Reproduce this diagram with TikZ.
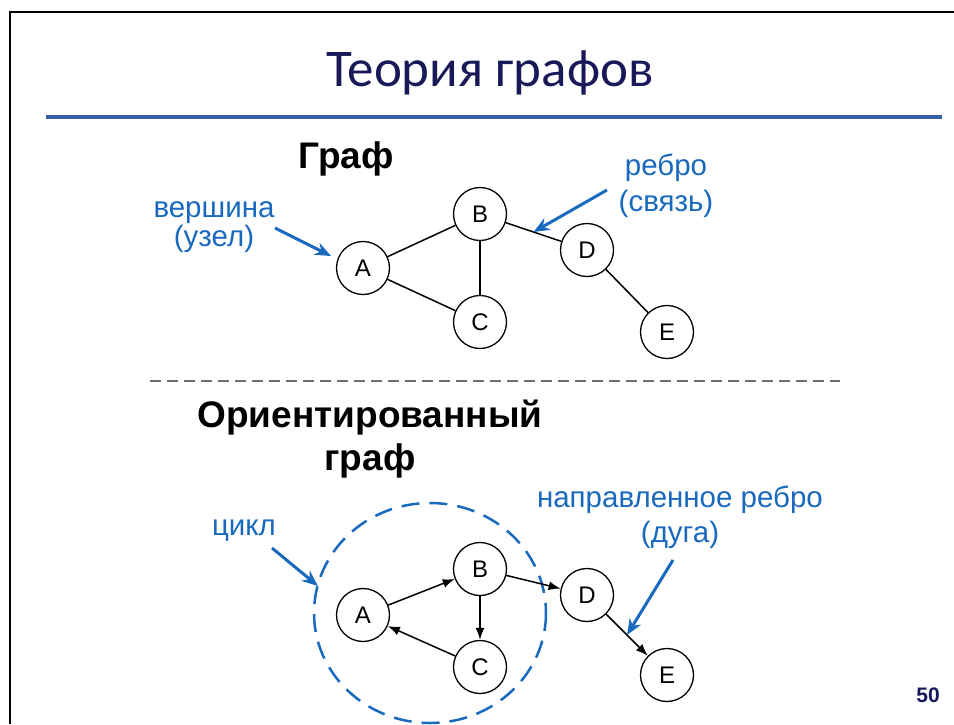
\documentclass[tikz,border=0pt]{standalone}
\usepackage{fontspec}
\setmainfont{Liberation Sans}
\newfontfamily\titlefont{Carlito}
\usetikzlibrary{arrows.meta,calc}
\definecolor{navy}{RGB}{25,25,90}
\definecolor{lineblue}{RGB}{55,95,165}
\definecolor{annblue}{RGB}{25,105,190}
\definecolor{sepgray}{RGB}{110,110,110}
\begin{document}
\begin{tikzpicture}[x=1pt,y=-1pt,
 vtx/.style={circle,draw,line width=1.3pt,minimum size=53pt,inner sep=0pt,font=\fontsize{24}{24}\selectfont},
 edge/.style={line width=1.5pt},
 darc/.style={line width=1.5pt,-{Latex[length=12pt,width=9pt]}},
 ann/.style={text=annblue,font=\fontsize{29.5}{33}\selectfont,anchor=base},
 annarrow/.style={draw=annblue,line width=3pt,-{Stealth[length=16pt,width=13pt]}},
 heading/.style={font=\bfseries\fontsize{37}{40}\selectfont,anchor=base}]
\useasboundingbox (0,0) rectangle (954,724);
\fill[white] (0,0) rectangle (954,724);
\draw[line width=2.5pt] (10,724) -- (10,12) -- (954,12);
% title
\node[font=\titlefont\fontsize{53}{56}\selectfont,text=navy,anchor=base] (title) at (490,86) {Теория графов};
\draw[lineblue,line width=4pt] (46,117) -- (942,117);
% upper graph
\node[heading] (h1) at (346,168) {Граф};
\node[vtx] (A) at (363,268) {A};
\node[vtx] (B) at (480,214) {B};
\node[vtx] (C) at (480,322) {C};
\node[vtx] (D) at (587,250) {D};
\node[vtx] (E) at (667,332) {E};
\draw[edge] (A) -- (B);
\draw[edge] (A) -- (C);
\draw[edge] (B) -- (C);
\draw[edge] (B) -- (D);
\draw[edge] (D) -- (E);
\node[ann] (v1) at (214,217) {вершина};
\node[ann] (v2) at (214,246) {(узел)};
\node[ann] (r1) at (666,175) {ребро};
\node[ann] (r2) at (666,211) {(связь)};
\coordinate (va) at (275,228);
\coordinate (vb) at (331,256);
\draw[annarrow] (va) -- (vb);
\coordinate (ra) at (607,190);
\coordinate (rb) at ($(B)!0.5!(D)$);
\draw[annarrow] (ra) -- (rb);
% separator
\draw[sepgray,line width=2pt,dash pattern=on 11pt off 6pt] (150,381) -- (840,381);
% lower graph
\node[heading] (h2) at (370,427) {Ориентированный};
\node[heading] (h3) at (370,470) {граф};
\draw[annblue,line width=2.5pt,dash pattern=on 18pt off 10pt] (430,613) ellipse [x radius=116, y radius=110];
\node[vtx] (A2) at (363,615) {A};
\node[vtx] (B2) at (480,569) {B};
\node[vtx] (C2) at (480,667) {C};
\node[vtx] (D2) at (587,595) {D};
\node[vtx] (E2) at (667,675) {E};
\draw[darc] (A2) -- (B2);
\draw[darc] (B2) -- (C2);
\draw[darc] (C2) -- (A2);
\draw[darc] (B2) -- (D2);
\draw[darc] (D2) -- (E2);
\node[ann] (c1) at (244,535) {цикл};
\coordinate (ca) at (272,548);
\coordinate (cb) at (318,586);
\draw[annarrow] (ca) -- (cb);
\node[ann] (n1) at (680,507) {направленное ребро};
\node[ann] (n2) at (680,542) {(дуга)};
\coordinate (na) at (673,560);
\coordinate (nb) at ($(D2)!0.5!(E2)$);
\draw[annarrow] (na) -- (nb);
\node[font=\bfseries\fontsize{21}{21}\selectfont,text=navy] (pg) at (928,695) {50};
\end{tikzpicture}
\end{document}
